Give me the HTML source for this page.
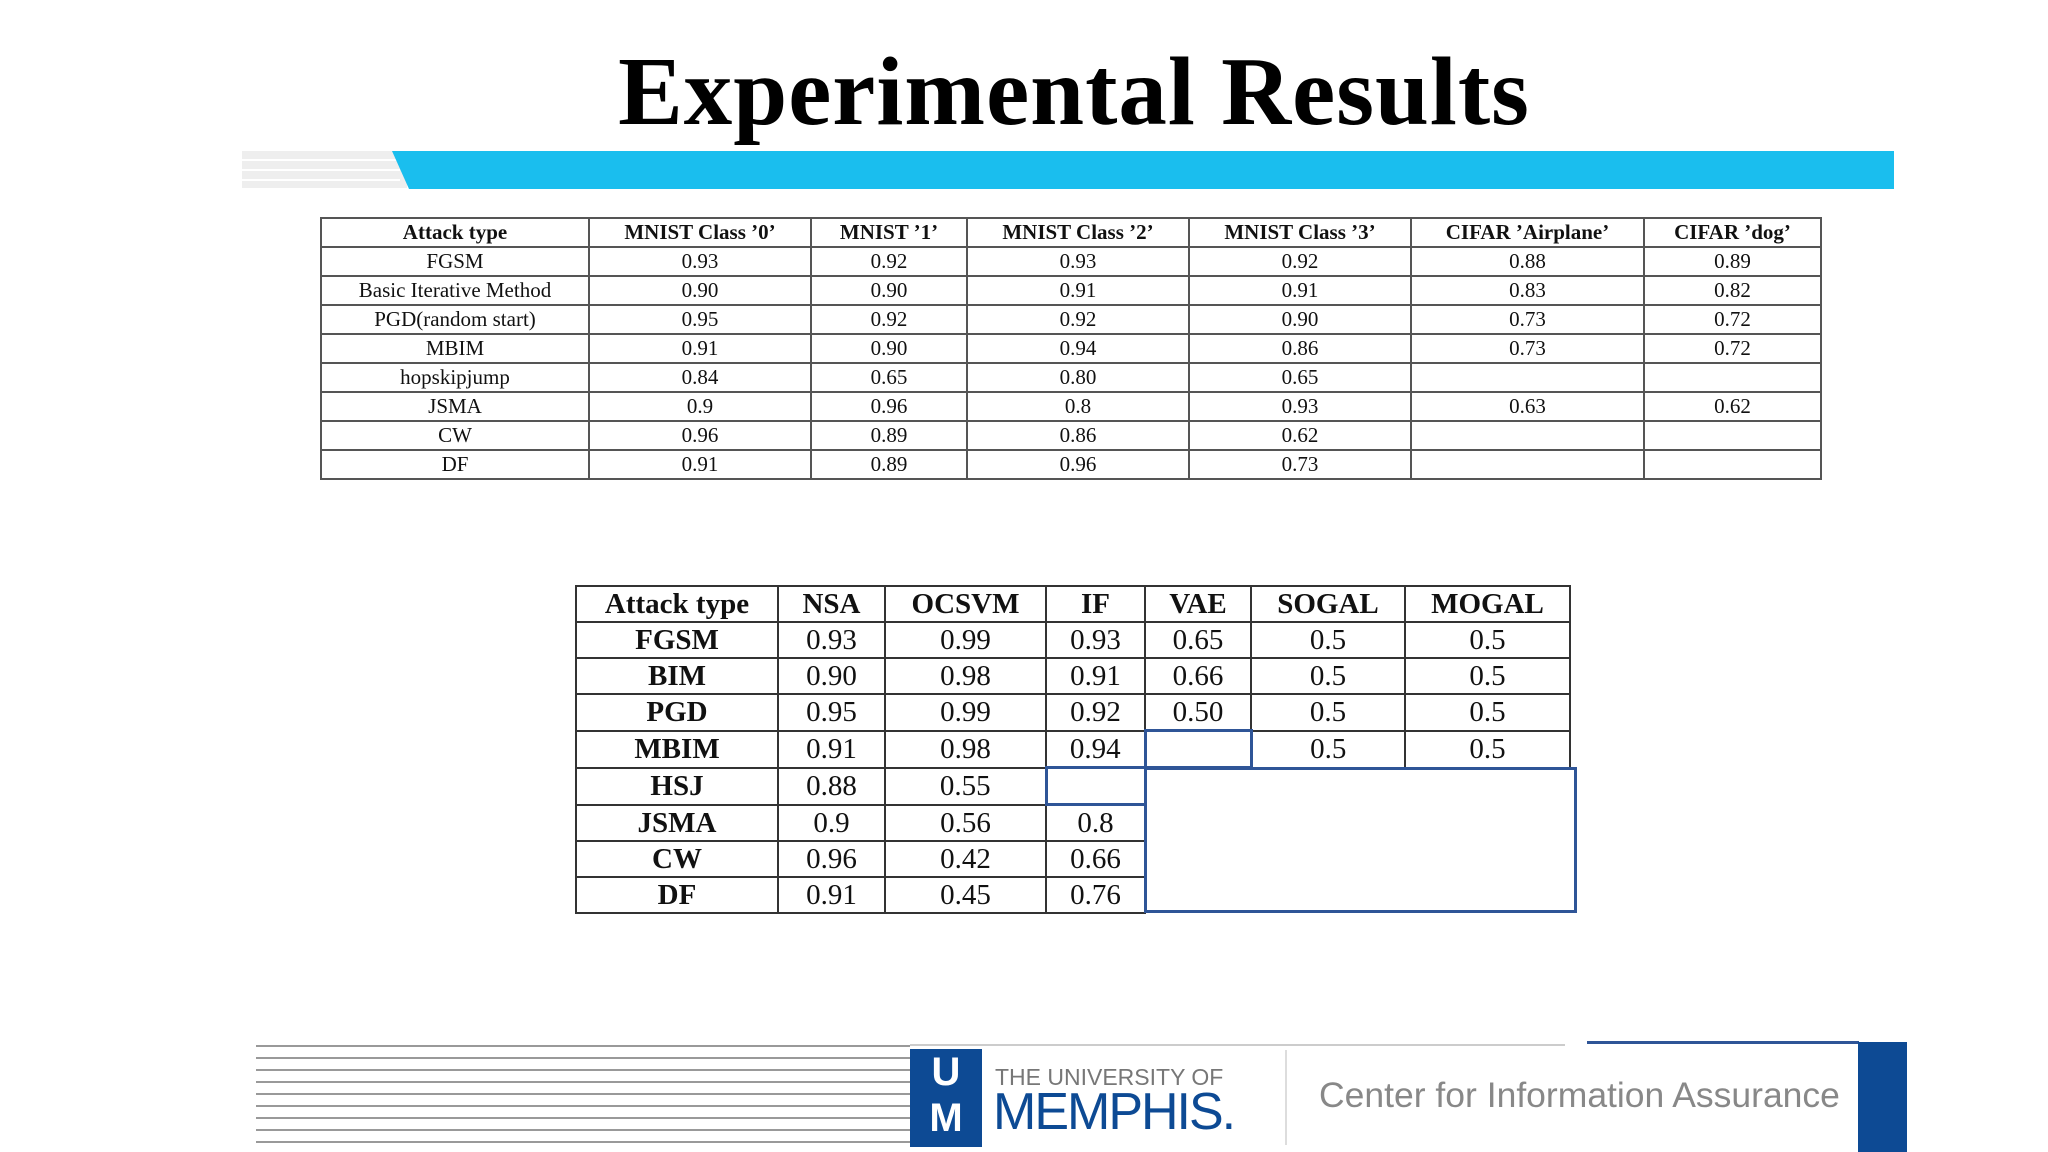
<!DOCTYPE html>
<html><head><meta charset="utf-8"><style>
body{margin:0;width:2048px;height:1152px;background:#fff;position:relative;overflow:hidden;font-family:"Liberation Serif",serif}
.abs{position:absolute}
table{border-collapse:collapse;position:absolute;table-layout:fixed}
td{border:2px solid #555;text-align:center;padding:0;color:#111;white-space:nowrap;overflow:hidden}
#t1 td{height:27px;font-size:21px;line-height:27px}
#t2 td{height:34px;font-size:29px;line-height:34px;border-color:#333}
.line{position:absolute;left:256px;width:654px;height:2px;background:#999}
</style></head><body>
<div class="abs" style="left:0;width:2148px;top:36px;text-align:center;font-size:97px;font-weight:bold;color:#000;letter-spacing:1px">Experimental Results</div>
<svg class="abs" style="left:0;top:0" width="2048" height="200">
<rect x="242" y="151" width="165" height="37" fill="#eee"/>
<line x1="242" y1="160" x2="400" y2="160" stroke="#fff" stroke-width="2"/>
<line x1="242" y1="170" x2="400" y2="170" stroke="#fff" stroke-width="2"/>
<line x1="242" y1="180" x2="400" y2="180" stroke="#fff" stroke-width="2"/>
<polygon points="392,151 1894,151 1894,189 409,189" fill="#1ABEEE"/>
</svg>
<table id="t1" style="left:320px;top:217px;width:1500px">
<colgroup><col style="width:268px"><col style="width:222px"><col style="width:156px"><col style="width:222px"><col style="width:222px"><col style="width:233px"><col style="width:177px"></colgroup>
<tr style="font-weight:bold"><td><b>Attack type</b></td><td><b>MNIST Class ’0’</b></td><td><b>MNIST ’1’</b></td><td><b>MNIST Class ’2’</b></td><td><b>MNIST Class ’3’</b></td><td><b>CIFAR ’Airplane’</b></td><td><b>CIFAR ’dog’</b></td></tr>
<tr><td>FGSM</td><td>0.93</td><td>0.92</td><td>0.93</td><td>0.92</td><td>0.88</td><td>0.89</td></tr>
<tr><td>Basic Iterative Method</td><td>0.90</td><td>0.90</td><td>0.91</td><td>0.91</td><td>0.83</td><td>0.82</td></tr>
<tr><td>PGD(random start)</td><td>0.95</td><td>0.92</td><td>0.92</td><td>0.90</td><td>0.73</td><td>0.72</td></tr>
<tr><td>MBIM</td><td>0.91</td><td>0.90</td><td>0.94</td><td>0.86</td><td>0.73</td><td>0.72</td></tr>
<tr><td>hopskipjump</td><td>0.84</td><td>0.65</td><td>0.80</td><td>0.65</td><td></td><td></td></tr>
<tr><td>JSMA</td><td>0.9</td><td>0.96</td><td>0.8</td><td>0.93</td><td>0.63</td><td>0.62</td></tr>
<tr><td>CW</td><td>0.96</td><td>0.89</td><td>0.86</td><td>0.62</td><td></td><td></td></tr>
<tr><td>DF</td><td>0.91</td><td>0.89</td><td>0.96</td><td>0.73</td><td></td><td></td></tr>
</table>
<table id="t2" style="left:575px;top:585px;width:994px">
<colgroup><col style="width:202px"><col style="width:107px"><col style="width:161px"><col style="width:99px"><col style="width:106px"><col style="width:154px"><col style="width:165px"></colgroup>
<tr><td><b>Attack type</b></td><td><b>NSA</b></td><td><b>OCSVM</b></td><td><b>IF</b></td><td><b>VAE</b></td><td><b>SOGAL</b></td><td><b>MOGAL</b></td></tr>
<tr><td><b>FGSM</b></td><td>0.93</td><td>0.99</td><td>0.93</td><td>0.65</td><td>0.5</td><td>0.5</td></tr>
<tr><td><b>BIM</b></td><td>0.90</td><td>0.98</td><td>0.91</td><td>0.66</td><td>0.5</td><td>0.5</td></tr>
<tr><td><b>PGD</b></td><td>0.95</td><td>0.99</td><td>0.92</td><td>0.50</td><td>0.5</td><td>0.5</td></tr>
<tr><td><b>MBIM</b></td><td>0.91</td><td>0.98</td><td>0.94</td><td style="border:3px solid #2F5597"></td><td>0.5</td><td>0.5</td></tr>
<tr><td><b>HSJ</b></td><td>0.88</td><td>0.55</td><td style="border:3px solid #2F5597"></td><td style="border:none"></td><td style="border:none"></td><td style="border:none"></td></tr>
<tr><td><b>JSMA</b></td><td>0.9</td><td>0.56</td><td>0.8</td><td style="border:none"></td><td style="border:none"></td><td style="border:none"></td></tr>
<tr><td><b>CW</b></td><td>0.96</td><td>0.42</td><td>0.66</td><td style="border:none"></td><td style="border:none"></td><td style="border:none"></td></tr>
<tr><td><b>DF</b></td><td>0.91</td><td>0.45</td><td>0.76</td><td style="border:none"></td><td style="border:none"></td><td style="border:none"></td></tr>
</table>
<div class="abs" style="left:1144px;top:767px;width:427px;height:140px;border:3px solid #2F5597"></div>
<div>
<div class="line" style="top:1045px"></div><div class="line" style="top:1057px"></div><div class="line" style="top:1069px"></div><div class="line" style="top:1081px"></div><div class="line" style="top:1093px"></div><div class="line" style="top:1105px"></div><div class="line" style="top:1117px"></div><div class="line" style="top:1129px"></div><div class="line" style="top:1141px"></div>
<div class="abs" style="left:910px;top:1044px;width:655px;height:2px;background:#ccc"></div>
<div class="abs" style="left:1587px;top:1041px;width:272px;height:3px;background:#2F5597"></div>
<div class="abs" style="left:910px;top:1049px;width:72px;height:98px;background:#0D4A94;color:#fff;font-family:'Liberation Sans',sans-serif;font-weight:bold;font-size:40px;line-height:46px;text-align:center">U<br>M</div>
<div class="abs" style="left:995px;top:1064px;font-family:'Liberation Sans',sans-serif;font-size:23px;color:#777">THE UNIVERSITY OF</div>
<div class="abs" style="left:993px;top:1082px;font-family:'Liberation Sans',sans-serif;font-size:52px;color:#0D4A94;letter-spacing:-2px">MEMPHIS.</div>
<div class="abs" style="left:1285px;top:1050px;width:2px;height:95px;background:#ddd"></div>
<div class="abs" style="left:1319px;top:1075px;font-family:'Liberation Sans',sans-serif;font-size:35.5px;color:#888">Center for Information Assurance</div>
<div class="abs" style="left:1858px;top:1042px;width:49px;height:110px;background:#0D4A94"></div>
</div>
</body></html>
